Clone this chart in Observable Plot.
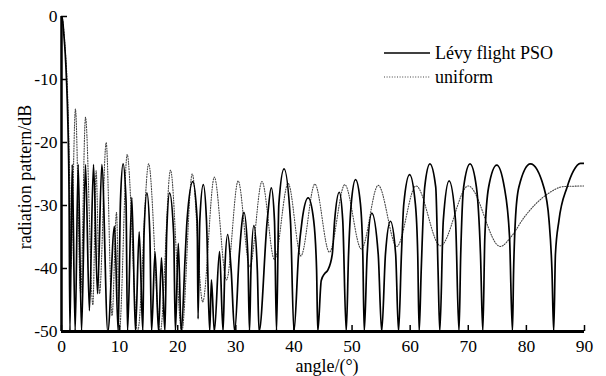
<!DOCTYPE html>
<html><head><meta charset="utf-8">
<script src="https://cdn.jsdelivr.net/npm/d3@7"></script>
<script src="https://cdn.jsdelivr.net/npm/@observablehq/plot@0.6"></script>
<style>
body{margin:0;background:#fff;}
svg, svg text{font-family:"Liberation Serif","Times New Roman",serif !important;}
</style>
</head><body><div id="chart"></div>
<script>
// [angle (deg), radiation pattern (dB)]
const levyPSO = [
[0,0],[0.2,-0.7],[0.4,-2.8],[0.65,-6],[0.86,-10],[1.1,-17],[1.3,-28],[1.45,-50],
[1.84,-23.5],[2.35,-50],[2.87,-23.5],[3.45,-50],[4.13,-23.5],[4.8,-46.7],[5.51,-23.5],[6.2,-44],[6.94,-23.5],[7.97,-50],
[9.12,-33.3],[9.75,-50],[10.15,-29.2],[10.6,-23.4],[11.1,-29.2],[11.36,-50],[12.1,-28.7],[12.73,-50],[13.37,-34.2],[14.0,-50],
[14.2,-34.5],[14.7,-28.0],[15.2,-34.5],[15.5,-50],
[16.1,-37.4],[16.7,-50],[17.2,-38.3],[17.8,-50],[18.1,-34.5],[18.6,-28.0],[19.3,-34.5],[19.6,-50],[20.1,-36],[20.6,-50],
[21.3,-37.7],[21.6,-32.4],[22.6,-26.2],[23.35,-32.4],[23.5,-48],[23.8,-32.4],[24.4,-26.7],[24.95,-32.4],[25.5,-50],[25.8,-41.8],
[26.3,-50],[27.2,-37.3],[27.8,-50],[28.1,-40.3],[28.6,-34.6],[29.2,-40.3],[29.8,-50],[30.6,-37.7],[31.4,-31.1],[32.06,-37.7],
[32.35,-50],[32.6,-40.3],[33.1,-33.2],[33.7,-40.3],[34.0,-50],[35.4,-32.4],[36.1,-27.2],[36.65,-32.4],[37.0,-50],
[37.4,-29.8],[38.3,-24.2],[39.4,-32.4],[40.0,-50],[40.8,-37.7],[41.4,-32.4],[42.45,-28.8],
[43.4,-32.4],[43.9,-40.3],[44.1,-50],[44.7,-41.9],[45.3,-40.8],[45.8,-40.3],[46.6,-37.7],[47.0,-32.4],[47.8,-27.9],[48.4,-32.4],
[49.0,-50],[49.4,-37.7],[49.85,-29.8],[50.6,-25.9],[51.45,-29.8],[51.85,-37.7],[52.1,-50],[52.6,-37.7],[53.4,-31.2],[54.5,-37.7],
[55.1,-50],[55.75,-37.7],[56.6,-32.5],[57.5,-37.7],[58.0,-50],[58.5,-37.7],[58.9,-29.8],[59.9,-25.1],[60.9,-29.8],[61.3,-37.7],
[61.55,-50],[61.9,-40.3],[62.5,-27.1],[63.4,-23.4],[64.4,-27.1],[64.8,-40.3],[65.1,-50],[65.7,-32.4],[66.7,-26.1],[67.8,-32.4],
[68.4,-50],[68.7,-37.7],[69.2,-27.1],[70.3,-23.4],[71.4,-27.1],[72.1,-37.7],[72.5,-50],[72.85,-35],[73.5,-27.1],[74.9,-23.6],
[76.2,-27.1],[77.1,-35],[77.6,-50],[77.8,-40.3],[78.1,-32.4],[78.7,-27.1],[80.7,-23.4],[83.0,-27.1],[83.9,-32.4],[84.4,-40.3],
[84.7,-50],[85.0,-37.7],[85.6,-32.4],[87.0,-27.1],[88.1,-24.5],[89.3,-23.3],[90,-23.3]
];
const uniform = [
[0,0],[0.2,-0.6],[0.45,-2.8],[0.7,-6],[0.95,-10],[1.2,-17],[1.4,-26],[1.6,-40],[2.4,-14.7],[3.3,-44],[4.13,-16],
[5.4,-45.8],[5.96,-24.5],[6.54,-44],[7.69,-20],[8.7,-47.5],[9.47,-31.1],[9.95,-50],[11.3,-21.9],[13.1,-50],[15.0,-23.4],
[17.0,-50],[18.76,-24.4],[20.7,-50],[22.5,-25.0],[24.3,-45.3],[26.3,-25.5],[28.4,-41.8],[30.4,-26.1],[32.4,-39.7],
[34.5,-26.2],[36.65,-38.6],[39.0,-26.5],[41.2,-38.0],[43.6,-26.6],[46.1,-37.4],[48.75,-26.7],[51.6,-36.9],[54.5,-26.8],
[57.7,-36.5],[61.0,-26.9],[65.2,-36.4],[70.0,-26.9],[75.5,-36.5],[77.5,-34.8],[79.6,-31.9],[83.6,-28.2],[86.4,-27.0],[90,-26.9]
];
const xTicks = [0,10,20,30,40,50,60,70,80,90];
const yTicks = [0,-10,-20,-30,-40,-50];
const seriesNames = ["Lévy flight PSO", "uniform"];
const xLabel = "angle/(°)";
const yLabel = "radiation pattern/dB";

const W = 606, H = 376, mL = 61, mR = 22, mT = 16, mB = 45;
const fw = W - mL - mR, fh = H - mT - mB;
const font = "Liberation Serif";

const chart = Plot.plot({
  width: W, height: H,
  marginLeft: mL, marginRight: mR, marginTop: mT, marginBottom: mB,
  style: {fontFamily: font, fontSize: "18px", background: "white", color: "black"},
  x: {domain: [0, 90]},
  y: {domain: [-50, 0]},
  marks: [
    Plot.line(uniform, {x: d => d[0], y: d => d[1], curve: "monotone-x", stroke: "#444", strokeWidth: 1.1, strokeDasharray: "1,1.6", clip: true}),
    Plot.line(levyPSO, {x: d => d[0], y: d => d[1], curve: "monotone-x", stroke: "black", strokeWidth: 1.7, clip: true}),
    Plot.tickX(xTicks, {x: d => d, insetTop: fh - 6, strokeWidth: 1.5}),
    Plot.tickY(yTicks, {y: d => d, insetRight: fw - 6, strokeWidth: 1.5}),
    Plot.ruleX([0], {strokeWidth: 2.5}),
    Plot.ruleY([-50], {strokeWidth: 3}),
    Plot.axisX({ticks: xTicks, tickSize: 0, tickPadding: 8, tickFormat: d => String(d), label: null, fontSize: 17.5}),
    Plot.axisY({ticks: yTicks, tickSize: 0, tickPadding: 4, tickFormat: d => String(d), label: null, fontSize: 17.5}),
    Plot.text([xLabel], {text: d => d, frameAnchor: "bottom", dx: 4, dy: 40, lineAnchor: "bottom", textAnchor: "middle", fontSize: 18}),
    Plot.text([yLabel], {text: d => d, frameAnchor: "left", dx: -31, dy: 3, rotate: -90, lineAnchor: "bottom", textAnchor: "middle", fontSize: 18})
  ]
});
document.getElementById("chart").appendChild(chart);

// legend
const svg = d3.select(chart);
const lg = svg.append("g").attr("font-size", 18).attr("text-anchor", "start");
lg.append("line").attr("x1", 384).attr("x2", 430).attr("y1", 53).attr("y2", 53).attr("stroke", "black").attr("stroke-width", 1.7);
lg.append("text").attr("x", 435).attr("y", 59).text(seriesNames[0]);
lg.append("line").attr("x1", 384).attr("x2", 430).attr("y1", 77).attr("y2", 77).attr("stroke", "#444").attr("stroke-width", 1.1).attr("stroke-dasharray", "1,1.6");
lg.append("text").attr("x", 435).attr("y", 83).text(seriesNames[1]);
</script>
</body></html>
